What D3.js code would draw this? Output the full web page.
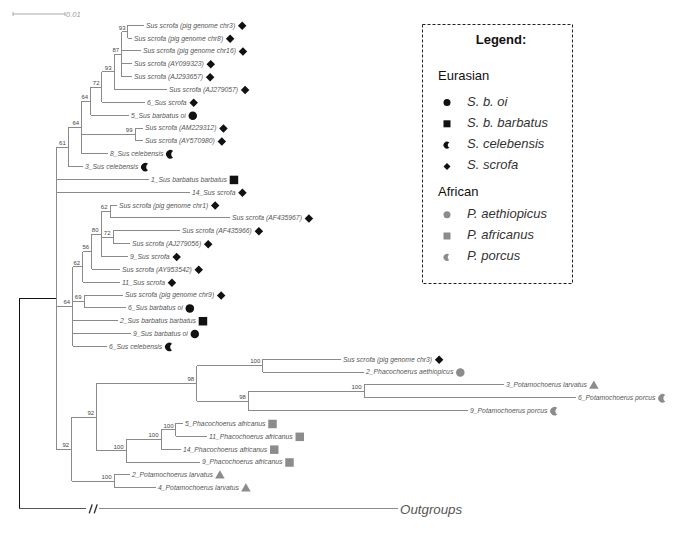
<!DOCTYPE html>
<html>
<head>
<meta charset="utf-8">
<script src="https://cdn.jsdelivr.net/npm/d3@7"></script>
<style>
  body { margin: 0; background: #fff; }
  svg { display: block; font-family: "Liberation Sans", Arial, sans-serif; }
</style>
</head>
<body>
<svg id="chart" width="685" height="533"></svg>
<script>
// internal nodes: id, parent, distance from root (subs/site), bootstrap
const nodeIds     = ['root', 'R1', 'n61', 'n64b', 'n64a', 'n72a', 'n93b', 'n87', 'n93a', 'n99', 'n64c', 'n62b', 'n56', 'n80', 'n62a', 'n72b', 'n69', 'n92b', 'n92a', 'n98a', 'n100a', 'n98b', 'n100b', 'n100e', 'n100d', 'n100c', 'n100f'];
const nodeParents = ['', 'root', 'R1', 'n61', 'n64b', 'n64a', 'n72a', 'n93b', 'n87', 'n64b', 'R1', 'n64c', 'n62b', 'n56', 'n80', 'n80', 'n64c', 'R1', 'n92b', 'n92a', 'n98a', 'n98a', 'n98b', 'n92a', 'n100e', 'n100d', 'n92b'];
const nodeDists   = [0, 0.00712, 0.00948, 0.01206, 0.01379, 0.01596, 0.01827, 0.01975, 0.02096, 0.02231, 0.01033, 0.01225, 0.01398, 0.01577, 0.0175, 0.01808, 0.0125, 0.01013, 0.01494, 0.03417, 0.04687, 0.0441, 0.06635, 0.02058, 0.02731, 0.03019, 0.01827];
const nodeSupport = ['', '', 61, 64, 64, 72, 93, 87, 93, 99, 64, 62, 56, 80, 62, 72, 69, 92, 92, 98, 100, 98, 100, 100, 100, 100, 100];

// leaves, top to bottom
const leafNames = [
  'Sus scrofa (pig genome chr3)', 'Sus scrofa (pig genome chr8)', 'Sus scrofa (pig genome chr16)',
  'Sus scrofa (AY099323)', 'Sus scrofa (AJ293657)', 'Sus scrofa (AJ279057)', '6_Sus scrofa',
  '5_Sus barbatus oi', 'Sus scrofa (AM229312)', 'Sus scrofa (AY570980)', '8_Sus celebensis',
  '3_Sus celebensis', '1_Sus barbatus barbatus', '14_Sus scrofa', 'Sus scrofa (pig genome chr1)',
  'Sus scrofa (AF435967)', 'Sus scrofa (AF435966)', 'Sus scrofa (AJ279056)', '9_Sus scrofa',
  'Sus scrofa (AY953542)', '11_Sus scrofa', 'Sus scrofa (pig genome chr9)', '6_Sus barbatus oi',
  '2_Sus barbatus barbatus', '9_Sus barbatus oi', '6_Sus celebensis', 'Sus scrofa (pig genome chr3)',
  '2_Phacochoerus aethiopicus', '3_Potamochoerus larvatus', '6_Potamochoerus porcus',
  '9_Potamochoerus porcus', '5_Phacochoerus africanus', '11_Phacochoerus africanus',
  '14_Phacochoerus africanus', '9_Phacochoerus africanus', '2_Potamochoerus larvatus',
  '4_Potamochoerus larvatus'
];
const leafParents = ['n93a', 'n93a', 'n87', 'n87', 'n87', 'n93b', 'n72a', 'n64a', 'n99', 'n99', 'n64b', 'n61', 'R1', 'R1', 'n62a', 'n62a', 'n72b', 'n72b', 'n80', 'n56', 'n62b', 'n69', 'n69', 'n64c', 'n64c', 'n64c', 'n100a', 'n100a', 'n100b', 'n100b', 'n98b', 'n100c', 'n100c', 'n100d', 'n100e', 'n100f', 'n100f'];
const leafDists = [0.02404, 0.02173, 0.02346, 0.02173, 0.02173, 0.02846, 0.02423, 0.02115, 0.02385, 0.02385, 0.01712, 0.01231, 0.025, 0.03288, 0.01885, 0.04058, 0.03096, 0.02135, 0.02096, 0.01942, 0.01942, 0.02, 0.02058, 0.01904, 0.02154, 0.01692, 0.06192, 0.06635, 0.09327, 0.10712, 0.08635, 0.03154, 0.03615, 0.03115, 0.03481, 0.02135, 0.02635];
const leafTaxa = ['scr', 'scr', 'scr', 'scr', 'scr', 'scr', 'scr', 'oi', 'scr', 'scr', 'cel', 'cel', 'bb', 'scr', 'scr', 'scr', 'scr', 'scr', 'scr', 'scr', 'scr', 'scr', 'oi', 'bb', 'oi', 'cel', 'scr', 'aeth', 'lar', 'por', 'por', 'afr', 'afr', 'afr', 'afr', 'lar', 'lar'];

// outgroup branch is cut (drawn with //)
const outgroupName = 'Outgroups';
const outgroupDist = 0.0729;
const outgroupRow = 37.65;
const breakDist = 0.0135;

const legendEurasian = ['oi', 'bb', 'cel', 'scr'];
const legendEurasianLabels = ['S. b. oi', 'S. b. barbatus', 'S. celebensis', 'S. scrofa'];
const legendAfrican = ['aeth', 'afr', 'por'];
const legendAfricanLabels = ['P. aethiopicus', 'P. africanus', 'P. porcus'];

const scaleBarValue = 0.01;

// ---------------------------------------------------------------
const BLACK = '#111', GRAY = '#8c8c8c', LINE = '#8a8a8a';
const taxonStyle = {
  oi:   { shape: 'circle',   fill: BLACK },
  bb:   { shape: 'square',   fill: BLACK },
  cel:  { shape: 'crescent', fill: BLACK },
  scr:  { shape: 'diamond',  fill: BLACK },
  aeth: { shape: 'circle',   fill: GRAY },
  afr:  { shape: 'square',   fill: GRAY },
  por:  { shape: 'crescent', fill: GRAY },
  lar:  { shape: 'triangle', fill: GRAY }
};

const svg = d3.select('#chart');

const x = d3.scaleLinear().domain([0, 0.01]).range([19, 71]);
const y = d3.scaleLinear().domain([0, leafNames.length - 1]).range([25.3, 487.7]);

const rows = nodeIds.map((id, i) => ({ id, parent: nodeParents[i] || null, dist: nodeDists[i], support: nodeSupport[i] }))
  .concat(leafNames.map((name, i) => ({ id: 'leaf' + i, parent: leafParents[i], dist: leafDists[i], name, taxon: leafTaxa[i], row: i })));
rows.push({ id: 'out', parent: 'root', dist: outgroupDist, name: outgroupName, row: outgroupRow, outgroup: true });

const root = d3.stratify().id(d => d.id).parentId(d => d.parent)(rows);

root.eachAfter(n => {
  n.px = x(n.data.dist);
  if (!n.children) {
    n.py = y(n.data.row);
  } else {
    const ys = n.children.map(c => c.py);
    n.y0 = d3.min(ys); n.y1 = d3.max(ys);
    n.py = (n.y0 + n.y1) / 2;
  }
});

// thick crescent, horns to the right
function crescentPath(s) {
  const r = s / 2;
  const ax = 0.64 * r, ay = 0.77 * r, rb = 0.9 * r;
  return `M${ax},${-ay}A${r},${r} 0 1 0 ${ax},${ay}A${rb},${rb} 0 0 1 ${ax},${-ay}Z`;
}

function drawMarker(g, taxon, cx, cy, s) {
  const st = taxonStyle[taxon];
  if (!st) return;
  if (st.shape === 'circle') {
    g.append('circle').attr('cx', cx).attr('cy', cy).attr('r', s / 2).attr('fill', st.fill);
  } else if (st.shape === 'square') {
    g.append('rect').attr('x', cx - s / 2).attr('y', cy - s / 2).attr('width', s).attr('height', s).attr('fill', st.fill);
  } else if (st.shape === 'diamond') {
    const d = s / Math.SQRT2;
    g.append('rect').attr('x', -d / 2).attr('y', -d / 2).attr('width', d).attr('height', d)
      .attr('transform', `translate(${cx},${cy}) rotate(45)`).attr('fill', st.fill);
  } else if (st.shape === 'triangle') {
    g.append('path').attr('d', d3.symbol(d3.symbolTriangle, s * s * 0.55)())
      .attr('transform', `translate(${cx},${cy + 0.5})`).attr('fill', st.fill);
  } else if (st.shape === 'crescent') {
    g.append('path').attr('d', crescentPath(s))
      .attr('transform', `translate(${cx},${cy})`).attr('fill', st.fill);
  }
}

// scale bar
const sbX0 = 13, sbX1 = sbX0 + (x(scaleBarValue) - x(0)), sbY = 14;
const sb = svg.append('g').attr('stroke', '#aaa');
sb.append('line').attr('x1', sbX0).attr('x2', sbX1).attr('y1', sbY).attr('y2', sbY);
sb.append('line').attr('x1', sbX0).attr('x2', sbX0).attr('y1', sbY - 2).attr('y2', sbY + 2);
sb.append('line').attr('x1', sbX1).attr('x2', sbX1).attr('y1', sbY - 2).attr('y2', sbY + 2);
svg.append('text').attr('x', sbX1 + 1).attr('y', sbY + 2.5).attr('font-size', 7.5).attr('fill', '#999')
  .attr('font-style', 'italic').text(scaleBarValue.toFixed(2));

// branches
const lines = svg.append('g').attr('fill', 'none').attr('stroke-width', 1).attr('shape-rendering', 'crispEdges');

root.each(n => {
  const isRootLevel = n === root || n.parent === root;
  if (n.children) {
    lines.append('line').attr('x1', n.px).attr('x2', n.px).attr('y1', n.y0).attr('y2', n.y1)
      .attr('stroke', n === root ? BLACK : LINE);
  }
  if (n.parent && !n.data.outgroup) {
    lines.append('line').attr('x1', n.parent.px).attr('x2', n.px).attr('y1', n.py).attr('y2', n.py)
      .attr('stroke', isRootLevel ? BLACK : LINE);
  }
  if (n.data.outgroup) {
    const bx = x(breakDist);
    lines.append('line').attr('x1', n.parent.px).attr('x2', bx - 3).attr('y1', n.py).attr('y2', n.py).attr('stroke', '#555');
    lines.append('line').attr('x1', bx + 10).attr('x2', n.px).attr('y1', n.py).attr('y2', n.py).attr('stroke', LINE);
    const br = svg.append('g').attr('stroke', '#333').attr('stroke-width', 1.4);
    [0, 5].forEach(o => br.append('line')
      .attr('x1', bx + o).attr('y1', n.py + 4.5).attr('x2', bx + o + 3).attr('y2', n.py - 4.5));
  }
});

// bootstrap values
svg.append('g').selectAll('text')
  .data(root.descendants().filter(n => n.children && n.data.support !== ''))
  .join('text')
  .attr('x', n => n.px - 2.5)
  .attr('y', n => n.py - 2.2)
  .attr('text-anchor', 'end')
  .attr('font-size', 6)
  .attr('fill', '#444')
  .text(n => n.data.support);

// leaf labels + markers
const leafG = svg.append('g');
root.leaves().forEach(n => {
  if (n.data.outgroup) {
    leafG.append('text').attr('x', n.px + 2).attr('y', n.py).attr('dy', '0.35em')
      .attr('font-size', 13.3).attr('font-style', 'italic').attr('fill', '#555').text(n.data.name);
    return;
  }
  const t = leafG.append('text').attr('x', n.px + 2).attr('y', n.py).attr('dy', '0.35em')
    .attr('font-size', 6.8).attr('font-style', 'italic').attr('fill', '#555').text(n.data.name);
  const w = t.node().getComputedTextLength();
  drawMarker(leafG, n.data.taxon, n.px + 2 + w + 7, n.py + 0.5, 8.5);
});

// legend
const lg = svg.append('g');
lg.append('rect').attr('x', 422.5).attr('y', 24.5).attr('width', 150).attr('height', 259)
  .attr('fill', 'none').attr('stroke', '#222').attr('stroke-dasharray', '3,2');
lg.append('text').attr('x', 501).attr('y', 44).attr('text-anchor', 'middle')
  .attr('font-size', 13).attr('font-weight', 'bold').attr('fill', '#111').text('Legend:');

let ly = 75;
function legendHeader(label) {
  lg.append('text').attr('x', 438).attr('y', ly).attr('dy', '0.35em').attr('font-size', 13).attr('fill', '#111').text(label);
}
function legendItems(keys, labels) {
  keys.forEach((k, i) => {
    drawMarker(lg, k, 447, ly + 1.5, 7);
    lg.append('text').attr('x', 467).attr('y', ly).attr('dy', '0.35em').attr('font-size', 13)
      .attr('font-style', 'italic').attr('fill', '#333').text(labels[i]);
    ly += 21.3;
  });
}
legendHeader('Eurasian');
ly += 26;
legendItems(legendEurasian, legendEurasianLabels);
ly += 5;
legendHeader('African');
ly += 22;
legendItems(legendAfrican, legendAfricanLabels);
</script>
</body>
</html>
